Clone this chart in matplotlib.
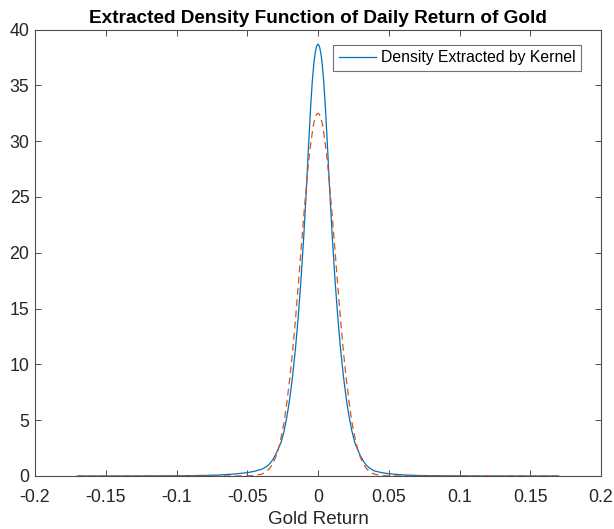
import matplotlib
matplotlib.use("Agg")
import matplotlib.pyplot as plt

plt.rcParams['font.family'] = ['Liberation Sans', 'DejaVu Sans']

# Kernel density (blue)
kernel_x = [-0.17, -0.15, -0.12, -0.10, -0.08, -0.07, -0.06, -0.05, -0.045, -0.04,
            -0.038, -0.036, -0.034, -0.032, -0.030, -0.028, -0.026, -0.024, -0.022,
            -0.020, -0.018, -0.016, -0.014, -0.012, -0.010, -0.008, -0.007, -0.006,
            -0.005, -0.004, -0.003, -0.002, -0.001, 0.0, 0.001, 0.002, 0.003, 0.004,
            0.005, 0.006, 0.007, 0.008, 0.010, 0.012, 0.014, 0.016,
            0.018, 0.020, 0.022, 0.024, 0.026, 0.028, 0.030, 0.032, 0.034, 0.036,
            0.038, 0.040, 0.045, 0.05, 0.06, 0.07, 0.08, 0.10, 0.12, 0.15, 0.17]
kernel_y = [0.0, 0.002, 0.008, 0.02, 0.05, 0.09, 0.17, 0.30, 0.42, 0.60,
            0.72, 0.88, 1.12, 1.45, 1.90, 2.45, 3.05, 4.0, 5.3,
            6.9, 8.9, 11.3, 14.2, 17.6, 21.6, 26.2, 28.8, 31.2,
            33.5, 35.4, 36.9, 37.9, 38.5, 38.7, 38.5, 37.9, 36.9, 35.4,
            33.5, 31.2, 28.8, 26.2, 21.6, 17.6, 14.2, 11.3,
            8.9, 6.9, 5.3, 4.0, 3.0, 2.35, 1.8, 1.35, 1.0, 0.75,
            0.58, 0.45, 0.30, 0.20, 0.10, 0.05, 0.03, 0.01, 0.004, 0.001, 0.0]

# Normal density (orange dashed)
normal_x = [-0.17, -0.15, -0.12, -0.10, -0.08, -0.06, -0.05, -0.045, -0.040, -0.038,
            -0.036, -0.034, -0.032, -0.030, -0.028, -0.026, -0.024, -0.022, -0.020,
            -0.018, -0.016, -0.014, -0.012, -0.010, -0.008, -0.007, -0.006, -0.005,
            -0.004, -0.003, -0.002, -0.001, 0.0, 0.001, 0.002, 0.003, 0.004, 0.005,
            0.006, 0.007, 0.008, 0.010, 0.012, 0.014, 0.016, 0.018,
            0.020, 0.022, 0.024, 0.026, 0.028, 0.030, 0.032, 0.034, 0.036, 0.038,
            0.040, 0.045, 0.05, 0.06, 0.08, 0.10, 0.12, 0.15, 0.17]
normal_y = [0.0, 0.0, 0.0, 0.0, 0.0, 0.0, 0.008, 0.04, 0.16, 0.27,
            0.45, 0.71, 1.10, 1.66, 2.4, 3.5, 4.8, 6.6, 8.7,
            11.1, 13.9, 17.0, 20.2, 23.4, 26.3, 27.7, 28.9, 29.9,
            30.8, 31.6, 32.07, 32.4, 32.5, 32.4, 32.07, 31.6, 30.8, 29.9,
            28.9, 27.7, 26.3, 23.4, 20.2, 17.0, 13.9, 11.1,
            8.7, 6.6, 4.8, 3.5, 2.4, 1.66, 1.10, 0.71, 0.45, 0.27,
            0.16, 0.04, 0.008, 0.0, 0.0, 0.0, 0.0, 0.0, 0.0]

x_ticks = [-0.2, -0.15, -0.1, -0.05, 0, 0.05, 0.1, 0.15, 0.2]
x_tick_labels = ['-0.2', '-0.15', '-0.1', '-0.05', '0', '0.05', '0.1', '0.15', '0.2']
y_ticks = [0, 5, 10, 15, 20, 25, 30, 35, 40]
y_tick_labels = ['0', '5', '10', '15', '20', '25', '30', '35', '40']

fig = plt.figure(figsize=(6.14, 5.29), dpi=100)
ax = fig.add_axes([35/614, 1-476/529, (601-35)/614, (476-29.5)/529])

ax.plot(kernel_x, kernel_y, color='#0072BD', lw=0.9, label='Density Extracted by Kernel')
ax.plot(normal_x, normal_y, color='#D95319', lw=0.9, ls=(0, (5.5, 3.5)))

ax.set_xlim(-0.2, 0.2)
ax.set_ylim(0, 40)
ax.set_xticks(x_ticks)
ax.set_xticklabels(x_tick_labels)
ax.set_yticks(y_ticks)
ax.set_yticklabels(y_tick_labels)

dark = '#262626'
for s in ax.spines.values():
    s.set_color('#4d4d4d')
    s.set_linewidth(0.8)
ax.tick_params(direction='in', length=4.5, width=0.7, colors='#4d4d4d',
               labelcolor=dark, labelsize=12.8, top=True, right=True, pad=4)
ax.tick_params(axis='x', pad=9)

ax.set_xlabel('Gold Return', fontsize=13.5, color=dark, labelpad=4)
ax.set_title('Extracted Density Function of Daily Return of Gold',
             fontsize=13.7, fontweight='bold', color='black', pad=5)

leg = ax.legend(loc='upper right', fontsize=11.3, frameon=True, fancybox=False,
                edgecolor='#4d4d4d', handlelength=2.4, handletextpad=0.3,
                borderpad=0.35, borderaxespad=0,
                bbox_to_anchor=((581-35)/566, 1-(45-29.5)/446.5))
leg.get_frame().set_linewidth(0.8)

fig.savefig('out.png', dpi=100)
